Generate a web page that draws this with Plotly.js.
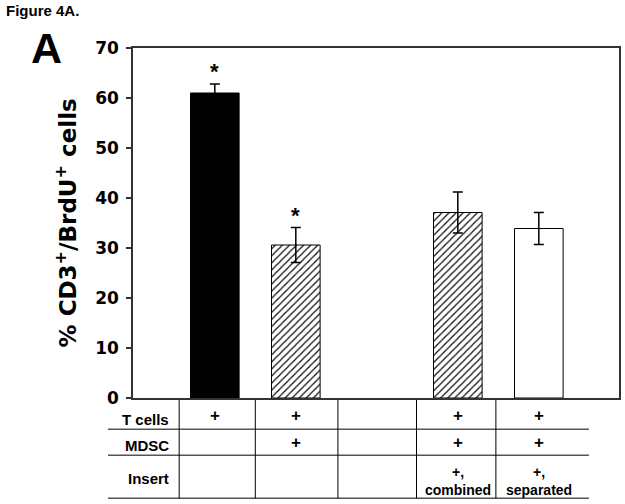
<!DOCTYPE html>
<html>
<head>
<meta charset="utf-8">
<script src="https://cdn.plot.ly/plotly-3.0.1.min.js"></script>
<style>html,body{margin:0;padding:0;background:#fff;}#chart{width:625px;height:504px;}</style>
</head>
<body>
<div id="chart"></div>
<script>
// ---- data ----
var groups = ["T cells", "T cells + MDSC", "empty", "T + MDSC, insert combined", "T + MDSC, insert separated"];
var values = [61.0, 30.6, null, 37.1, 33.9];
var errors = [1.8, 3.5, null, 4.1, 3.2];
var significant = [true, true, false, false, false];
var rowLabels = ["T cells", "MDSC", "Insert"];
var rowTCells = ["+", "+", "", "+", "+"];
var rowMDSC = ["", "+", "", "+", "+"];
var rowInsert = ["", "", "", "+,<br>combined", "+,<br>separated"];
var yTicks = [0, 10, 20, 30, 40, 50, 60, 70];

// ---- styles ----
var fills = ["#000000", "#ffffff", "#ffffff", "#ffffff", "#ffffff"];
var hatched = [false, true, false, true, false];
var ARIAL = "Liberation Sans, Arial, Helvetica, sans-serif";
var WIDE = "DejaVu Sans, Verdana, sans-serif";

var idx = groups.map(function (g, i) { return i; });
function pick(arr, wantHatch) {
  return idx.map(function (i) { return hatched[i] === wantHatch ? arr[i] : null; });
}

var solidBars = {
  type: "bar", x: idx, y: pick(values, false), width: 0.6,
  marker: { color: fills, line: { color: "#000", width: 1 } },
  error_y: { type: "data", array: pick(errors, false), visible: true, color: "#000", thickness: 1.5, width: 5 },
  hoverinfo: "skip", showlegend: false
};
var hatchBars = {
  type: "bar", x: idx, y: pick(values, true), width: 0.6,
  marker: { color: "#ffffff", line: { color: "#000", width: 1 },
    pattern: { shape: "/", fgcolor: "#000000", bgcolor: "#ffffff", size: 5, solidity: 0.22 } },
  error_y: { type: "data", array: pick(errors, true), visible: true, color: "#000", thickness: 1.5, width: 5 },
  hoverinfo: "skip", showlegend: false
};

var annotations = [];
idx.forEach(function (i) {
  if (significant[i]) {
    annotations.push({ x: i, y: values[i] + errors[i], xref: "x", yref: "y", text: "*", showarrow: false,
      yanchor: "bottom", yshift: -2, font: { family: ARIAL, size: 22, color: "#000", weight: "bold" } });
  }
});
var rowY = [-0.05, -0.127, -0.236];
var rowLabelY = [-0.061, -0.137, -0.229];
var rows = [rowTCells, rowMDSC, rowInsert];
rows.forEach(function (row, r) {
  annotations.push({ x: 0.078, y: rowLabelY[r], xref: "paper", yref: "paper", text: rowLabels[r], showarrow: false,
    xanchor: "right", yanchor: "middle", font: { family: ARIAL, size: 15, color: "#000", weight: "bold" } });
  row.forEach(function (t, i) {
    if (!t) return;
    annotations.push({ x: i, y: rowY[r], xref: "x", yref: "paper", text: t, showarrow: false,
      xanchor: "center", yanchor: "middle",
      font: { family: ARIAL, size: r === 2 ? 14 : 17, color: "#000", weight: "bold" } });
  });
});
annotations.push({ x: -0.137, y: 0.5, xref: "paper", yref: "paper", text: "% CD3<sup>+</sup>/BrdU<sup>+</sup> cells",
  textangle: -90, showarrow: false, xanchor: "center", yanchor: "middle",
  font: { family: WIDE, size: 23, color: "#000", weight: "bold" } });
annotations.push({ x: -0.2654, y: 1.106, xref: "paper", yref: "paper", text: "Figure 4A.", showarrow: false,
  xanchor: "left", yanchor: "middle", font: { family: ARIAL, size: 15, color: "#000", weight: "bold" } });
annotations.push({ x: -0.177, y: 1.0, xref: "paper", yref: "paper", text: "A", showarrow: false,
  xanchor: "center", yanchor: "middle", font: { family: ARIAL, size: 43, color: "#000", weight: "bold" } });

var shapes = [];
var hLines = [-0.0894, -0.1637, -0.2866];
hLines.forEach(function (yy) {
  shapes.push({ type: "line", xref: "paper", yref: "paper", x0: -0.0514, x1: 0.938, y0: yy, y1: yy,
    line: { color: "#555", width: 1.5 } });
});
var colBounds = [-0.44, 0.5, 1.52, 2.49, 3.47];
colBounds.forEach(function (xx) {
  shapes.push({ type: "line", xref: "x", yref: "paper", x0: xx, x1: xx, y0: -0.006, y1: -0.2866,
    line: { color: "#000", width: 1 } });
});

var layout = {
  width: 625, height: 504,
  margin: { l: 133, r: 6, t: 48, b: 106 },
  paper_bgcolor: "#fff", plot_bgcolor: "#fff",
  showlegend: false, barmode: "overlay",
  xaxis: { range: [-1.01, 4.99], showticklabels: false, ticks: "", showgrid: false, zeroline: false,
    showline: true, mirror: true, linecolor: "#333", linewidth: 1.5, fixedrange: true },
  yaxis: { range: [0, 70], tickvals: yTicks, ticks: "outside", ticklen: 5, tickwidth: 1.5, tickcolor: "#333",
    showgrid: false, zeroline: false, showline: true, mirror: true, linecolor: "#333", linewidth: 1.5,
    ticklabelstandoff: 4,
    tickfont: { family: WIDE, size: 17, color: "#000", weight: "bold" }, fixedrange: true },
  annotations: annotations,
  shapes: shapes
};

Plotly.newPlot("chart", [solidBars, hatchBars], layout, { displayModeBar: false });
</script>
</body>
</html>
